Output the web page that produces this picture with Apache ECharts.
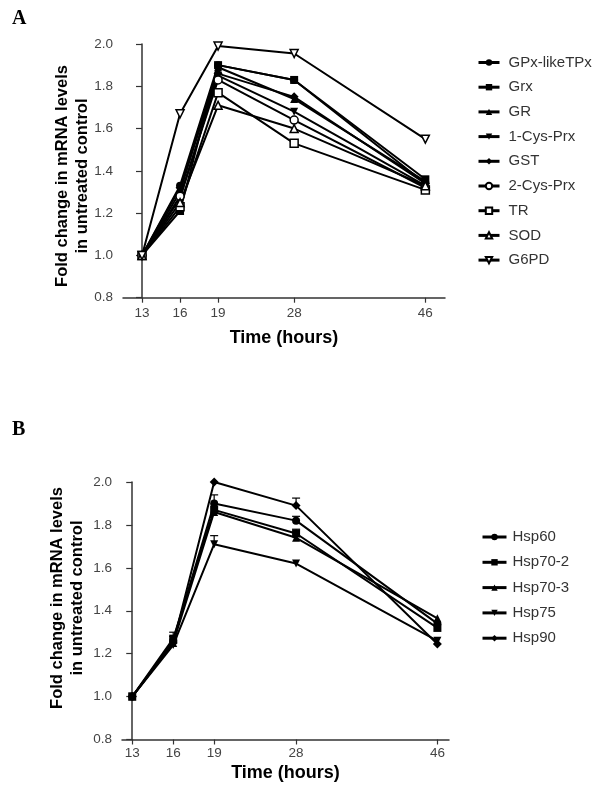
<!DOCTYPE html>
<html><head><meta charset="utf-8">
<script src="https://cdn.jsdelivr.net/npm/echarts@6/dist/echarts.min.js"></script>
<style>html,body{margin:0;padding:0;background:#fff}#c{width:600px;height:798px}</style>
</head><body><div id="c"></div>
<script>
// Time points (hours) and their positions on the original non-linear time axis
const hours = [13, 16, 19, 28, 46];
const hourPos = [0, 3, 6, 12, 22.35];

// Panel A
const namesA = ['GPx-likeTPx','Grx','GR','1-Cys-Prx','GST','2-Cys-Prx','TR','SOD','G6PD'];
const gpx  = [1.00, 1.33, 1.90, 1.83, 1.34];
const grx  = [1.00, 1.21, 1.90, 1.83, 1.36];
const gr   = [1.00, 1.30, 1.89, 1.74, 1.35];
const cys1 = [1.00, 1.27, 1.85, 1.68, 1.33];
const gst  = [1.00, 1.32, 1.86, 1.75, 1.34];
const cys2 = [1.00, 1.28, 1.83, 1.64, 1.32];
const tr   = [1.00, 1.23, 1.77, 1.53, 1.31];
const sod  = [1.00, 1.25, 1.71, 1.60, 1.33];
const g6pd = [1.00, 1.67, 1.99, 1.955, 1.55];

// Panel B
const namesB = ['Hsp60','Hsp70-2','Hsp70-3','Hsp75','Hsp90'];
const hsp60  = [1.00, 1.26, 1.90, 1.82, 1.34];
const hsp702 = [1.00, 1.27, 1.87, 1.76, 1.32];
const hsp703 = [1.00, 1.25, 1.86, 1.74, 1.365];
const hsp75  = [1.00, 1.24, 1.71, 1.62, 1.26];
const hsp90  = [1.00, 1.25, 2.00, 1.89, 1.245];
const hsp60Err  = [0, 0.02, 0.04, 0.02, 0];
const hsp702Err = [0, 0.03, 0, 0.02, 0];
const hsp703Err = [0, 0, 0, 0, 0];
const hsp75Err  = [0, 0, 0.04, 0, 0];
const hsp90Err  = [0, 0, 0, 0.035, 0];

const yName = 'Fold change in mRNA levels\nin untreated control';
const xName = 'Time (hours)';

const FONT = 'Liberation Sans, Arial, sans-serif';
const chart = echarts.init(document.getElementById('c'), null, {renderer: 'canvas'});

function pts(vals) { return vals.map((v, i) => [hourPos[i], v]); }

function mkSeries(name, vals, symbol, filled, idx, rotate) {
  return {
    name, type: 'line', xAxisIndex: idx, yAxisIndex: idx,
    data: pts(vals), symbol, symbolSize: symbol === 'diamond' ? 9 : 8,
    symbolRotate: rotate || 0, showSymbol: true,
    lineStyle: {color: '#000', width: 2},
    itemStyle: {color: filled ? '#000' : '#fff', borderColor: '#000', borderWidth: filled ? 0 : 1.5},
    emphasis: {disabled: true}, animation: false, z: 3
  };
}

function errSeries(vals, errs, idx) {
  const d = [];
  vals.forEach((v, i) => { if (errs[i] > 0) d.push([hourPos[i], v, v + errs[i]]); });
  return {
    type: 'custom', xAxisIndex: idx, yAxisIndex: idx, data: d, animation: false, z: 2,
    renderItem: function (params, api) {
      const p0 = api.coord([api.value(0), api.value(1)]);
      const p1 = api.coord([api.value(0), api.value(2)]);
      const w = 4;
      return {type: 'group', children: [
        {type: 'line', shape: {x1: p0[0], y1: p0[1], x2: p1[0], y2: p1[1]}, style: {stroke: '#000', lineWidth: 1.2}},
        {type: 'line', shape: {x1: p1[0] - w, y1: p1[1], x2: p1[0] + w, y2: p1[1]}, style: {stroke: '#000', lineWidth: 1.2}}
      ]};
    }
  };
}

function xAxis(idx, min, max, margin, gap) {
  return {
    type: 'value', gridIndex: idx, min, max,
    axisLine: {show: true, lineStyle: {color: '#333', width: 1.5}},
    axisTick: {show: true, length: 5, customValues: hourPos, lineStyle: {color: '#333', width: 1.2}},
    axisLabel: {customValues: hourPos, margin: margin, color: '#444', fontSize: 13.5, fontFamily: FONT,
      formatter: v => { const i = hourPos.findIndex(p => Math.abs(p - v) < 1e-6); return i >= 0 ? String(hours[i]) : ''; }},
    splitLine: {show: false},
    name: xName, nameLocation: 'middle', nameGap: gap, nameMoveOverlap: false,
    nameTextStyle: {color: '#000', fontSize: 18, fontWeight: 'bold', fontFamily: FONT}
  };
}
function yAxis(idx) {
  return {
    type: 'value', gridIndex: idx, min: 0.8, max: 2.0, interval: 0.2,
    axisLine: {show: true, lineStyle: {color: '#333', width: 1.5}},
    axisTick: {show: true, length: 6, lineStyle: {color: '#333', width: 1.2}},
    axisLabel: {margin: 10, color: '#444', fontSize: 13.5, fontFamily: FONT, formatter: v => v.toFixed(1)},
    splitLine: {show: false}
  };
}

const seriesA = [
  mkSeries(namesA[0], gpx, 'circle', true, 0),
  mkSeries(namesA[1], grx, 'rect', true, 0),
  mkSeries(namesA[2], gr, 'triangle', true, 0),
  mkSeries(namesA[3], cys1, 'triangle', true, 0, 180),
  mkSeries(namesA[4], gst, 'diamond', true, 0),
  mkSeries(namesA[5], cys2, 'circle', false, 0),
  mkSeries(namesA[6], tr, 'rect', false, 0),
  mkSeries(namesA[7], sod, 'triangle', false, 0),
  mkSeries(namesA[8], g6pd, 'triangle', false, 0, 180)
];
const seriesB = [
  mkSeries(namesB[0], hsp60, 'circle', true, 1),
  mkSeries(namesB[1], hsp702, 'rect', true, 1),
  mkSeries(namesB[2], hsp703, 'triangle', true, 1),
  mkSeries(namesB[3], hsp75, 'triangle', true, 1, 180),
  mkSeries(namesB[4], hsp90, 'diamond', true, 1),
  errSeries(hsp60, hsp60Err, 1),
  errSeries(hsp702, hsp702Err, 1),
  errSeries(hsp703, hsp703Err, 1),
  errSeries(hsp75, hsp75Err, 1),
  errSeries(hsp90, hsp90Err, 1)
];

const legendBase = {
  orient: 'vertical', itemHeight: 8, selectedMode: false,
  lineStyle: {width: 3},
  textStyle: {color: '#333', fontSize: 15, fontFamily: FONT, lineHeight: 15}
};

const yNameStyle = {text: yName, font: 'bold 16.5px "Liberation Sans", Arial, sans-serif', lineHeight: 20,
  fill: '#000', align: 'center', verticalAlign: 'middle'};

chart.setOption({
  animation: false,
  backgroundColor: '#fff',
  grid: [
    {left: 123, top: 44, width: 322, height: 253.7},
    {left: 122, top: 482, width: 327, height: 257.5}
  ],
  xAxis: [xAxis(0, -1.5, 23.9, 9, 31), xAxis(1, -0.75, 23.2, 7, 25)],
  yAxis: [yAxis(0), yAxis(1)],
  legend: [
    Object.assign({}, legendBase, {left: 472, top: 50, itemWidth: 21, itemGap: 9.7, data: namesA,
      textStyle: Object.assign({}, legendBase.textStyle, {padding: [0, 0, 0, 4]})}),
    Object.assign({}, legendBase, {left: 476, top: 524.5, itemWidth: 24, itemGap: 10.3, data: namesB,
      textStyle: Object.assign({}, legendBase.textStyle, {padding: [0, 0, 0, 1]})})
  ],
  graphic: [
    {type: 'text', left: 12, top: 9, style: {text: 'A', font: 'bold 20px "Liberation Serif", serif', fill: '#000'}},
    {type: 'text', left: 12, top: 420, style: {text: 'B', font: 'bold 20px "Liberation Serif", serif', fill: '#000'}},
    {type: 'text', x: 72, y: 176, rotation: Math.PI / 2, style: yNameStyle},
    {type: 'text', x: 67, y: 598, rotation: Math.PI / 2, style: yNameStyle}
  ],
  series: seriesA.concat(seriesB)
});
</script>
</body></html>
